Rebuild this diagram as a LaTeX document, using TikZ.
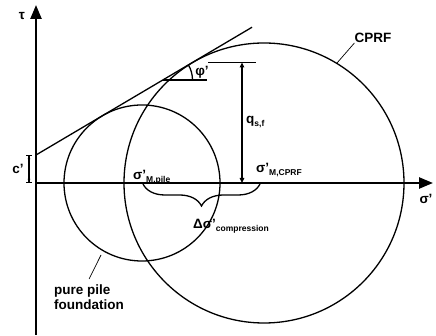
\documentclass[tikz,border=0pt]{standalone}
\usepackage{fontspec}
\setmainfont{Liberation Sans}
\usetikzlibrary{arrows.meta,decorations.pathreplacing}
\newcommand{\lsub}[1]{\raisebox{-2.5pt}{\fontsize{8.5}{8.5}\selectfont #1}}
\begin{document}
\begin{tikzpicture}[x=1pt,y=1pt]
% Mohr circles, pile vs. CPRF
\def\phiang{30.6}
\def\coh{28}
\providecommand{\mohrLineWidth}{1.3pt}
\providecommand{\mohrAxisWidth}{2.4pt}
\tikzset{
  lbl/.style={inner sep=0pt, font=\fontsize{13.5}{15}\selectfont\bfseries},
  axis/.style={line width=\mohrAxisWidth, -{Triangle[length=14pt,width=11pt]}},
  thin/.style={line width=\mohrLineWidth}
}
\useasboundingbox (-36,-153) rectangle (400,183);
% Points
\coordinate (O) at (0,0);
\coordinate (C) at (0,\coh);
\coordinate (qbot) at (206,0);
\coordinate (qtop) at (206,120.5);
\coordinate (cprfpt) at (301,120);
\coordinate (pilept) at (65,-72);
% Axes
\draw[axis] (0,-152) -- (0,178);
\draw[axis] (O) -- (397,0);
% Circles
\begin{scope}[thin]
  \draw (106,0) circle (78);
  \draw (228,0) circle (140);
  % Failure line
  \draw (C) -- ++(\phiang:251);
  \draw (126.5,103) -- (171,103);
  \draw (156.5,103) arc (0:\phiang:30);
  \draw (172,120.5) -- (220,120.5);
\end{scope}
% Dimensions
\draw[line width=1.1pt, {Triangle[length=5pt,width=4.5pt]}-{Triangle[length=5pt,width=4.5pt]}] (qbot) -- (qtop);
\draw[line width=1.1pt, {Bar[width=6pt]Latex[length=3pt,width=3pt]}-{Latex[length=3pt,width=3pt]Bar[width=6pt]}]
  ([xshift=-7pt]O) -- ([xshift=-7pt]C);
\draw[thin, decorate, decoration={brace, mirror, amplitude=22pt}] (107,-1) -- (224,-1);
% Labels
\node[lbl] (tau) at (-14,167) {τ};
\node[lbl] (sig) at (390,-16) {σ'};
\node[lbl] (cprime) at (-18,14) {c'};
\node[lbl] (phil) at (166,111) {φ'};
\node[lbl, anchor=west] (qsf) at (210,61) {q\lsub{s,f}};
\node[lbl, anchor=base west] (sigpile) at (97,3) {σ'\lsub{M,pile}};
\node[lbl, anchor=base west] (sigcprf) at (220,10) {σ'\lsub{M,CPRF}};
\node[lbl, anchor=base west] (dsig) at (157,-46) {Δσ'\lsub{compression}};
\node[lbl] (cprf) at (337,145) {CPRF};
\node[lbl, anchor=north west, align=left] (ppf) at (18,-102) {pure pile\\foundation};
% Leaders
\draw[line width=0.7pt] (cprf.south west) -- (cprfpt);
\draw[line width=0.7pt] ([yshift=6pt]ppf.north) -- (pilept);
\end{tikzpicture}
\end{document}
